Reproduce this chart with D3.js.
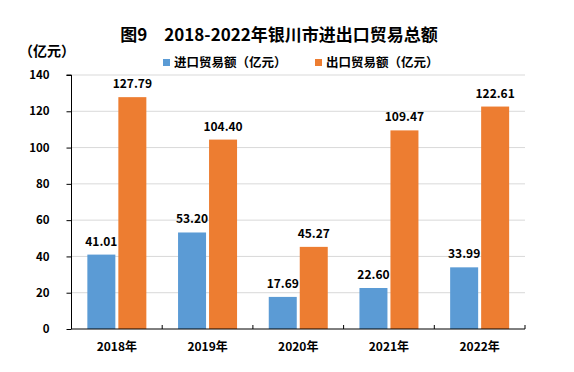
<!DOCTYPE html>
<html><head><meta charset="utf-8">
<script src="https://cdn.jsdelivr.net/npm/d3@7"></script>
<style>
body{margin:0;background:#fff;}
text{font-family:"Noto Sans CJK SC","Noto Sans",sans-serif;font-weight:bold;fill:#000;}
</style></head>
<body><svg id="c" width="574" height="372"></svg>
<script>
const years = ["2018年","2019年","2020年","2021年","2022年"];
const seriesNames = ["进口贸易额（亿元）","出口贸易额（亿元）"];
const importVals = [41.01, 53.20, 17.69, 22.60, 33.99];
const exportVals = [127.79, 104.40, 45.27, 109.47, 122.61];
const yTicks = [0,20,40,60,80,100,120,140];
const colors = ["#5B9BD5","#ED7D31"];
const title = "图9　2018-2022年银川市进出口贸易总额";
const unitLabel = "（亿元）";

(function(){
const svg = d3.select("#c");
const pl = 71.5, pr = 525, pt = 75, pb = 329;

const x0 = d3.scaleBand().domain(years).range([pl, pr]).padding(0);
const bw = x0.bandwidth();
const x1 = d3.scaleBand().domain([0,1]).range([bw/2 - 29.5, bw/2 + 29.5]).paddingInner(3/31).paddingOuter(0);
const y = d3.scaleLinear().domain([0,140]).range([pb, pt]);

// gridlines
svg.append("g").selectAll("line").data(yTicks.filter(d=>d>0)).join("line")
  .attr("x1", pl).attr("x2", pr).attr("y1", d=>y(d)).attr("y2", d=>y(d))
  .attr("stroke", "#D9D9D9").attr("stroke-width", 1);

// bars
const data = [importVals, exportVals];
data.forEach((vals, si) => {
  const g = svg.append("g");
  g.selectAll("rect").data(vals).join("rect")
    .attr("x", (d,i)=>x0(years[i]) + x1(si))
    .attr("width", x1.bandwidth())
    .attr("y", d=>y(d))
    .attr("height", d=>y(0)-y(d))
    .attr("fill", colors[si]);
  g.selectAll("text").data(vals).join("text")
    .attr("x", (d,i)=>x0(years[i]) + x1(si) + x1.bandwidth()/2)
    .attr("y", d=>y(d) - 9)
    .attr("text-anchor","middle")
    .style("font-size","12px")
    .text(d=>d.toFixed(2));
});

// y axis
const yAxis = svg.append("g").attr("transform", `translate(${pl},0)`)
  .call(d3.axisLeft(y).tickValues(yTicks).tickSize(5).tickPadding(20).tickFormat(d3.format("d")));
yAxis.select(".domain").attr("stroke","#000").attr("d", `M-5,${pt}H0V${pb}`);
yAxis.selectAll(".tick line").attr("stroke","#000");
yAxis.selectAll(".tick text").style("font-size","11.5px").style("font-family","'Noto Sans CJK SC',sans-serif").style("font-weight","bold").attr("x",-22).attr("text-anchor","end");

// x axis
const xAxis = svg.append("g").attr("transform", `translate(0,${pb})`)
  .call(d3.axisBottom(x0).tickSize(0).tickPadding(13));
xAxis.select(".domain").attr("stroke","#000").attr("d", `M${pl},0H${pr}`);
xAxis.selectAll(".tick text").style("font-size","12px").style("font-family","'Noto Sans CJK SC',sans-serif").style("font-weight","bold");
const bounds = years.map(d=>x0(d)).concat([pr]).slice(1);
xAxis.append("g").selectAll("line").data(bounds).join("line")
  .attr("x1", d=>d).attr("x2", d=>d).attr("y1", 0).attr("y2", -4).attr("stroke","#000");

// title
svg.append("text").attr("x", 279).attr("y", 41).attr("text-anchor","middle")
  .style("font-size","17px").text(title);
svg.append("text").attr("x", 19).attr("y", 56).style("font-size","14px").text(unitLabel);

// legend
const legX = [163, 315];
seriesNames.forEach((n,i)=>{
  svg.append("rect").attr("x", legX[i]).attr("y", 59).attr("width",7).attr("height",7).attr("fill",colors[i]);
  svg.append("text").attr("x", legX[i]+11).attr("y", 67).style("font-size","12.5px").text(n);
});
})();
</script></body></html>
